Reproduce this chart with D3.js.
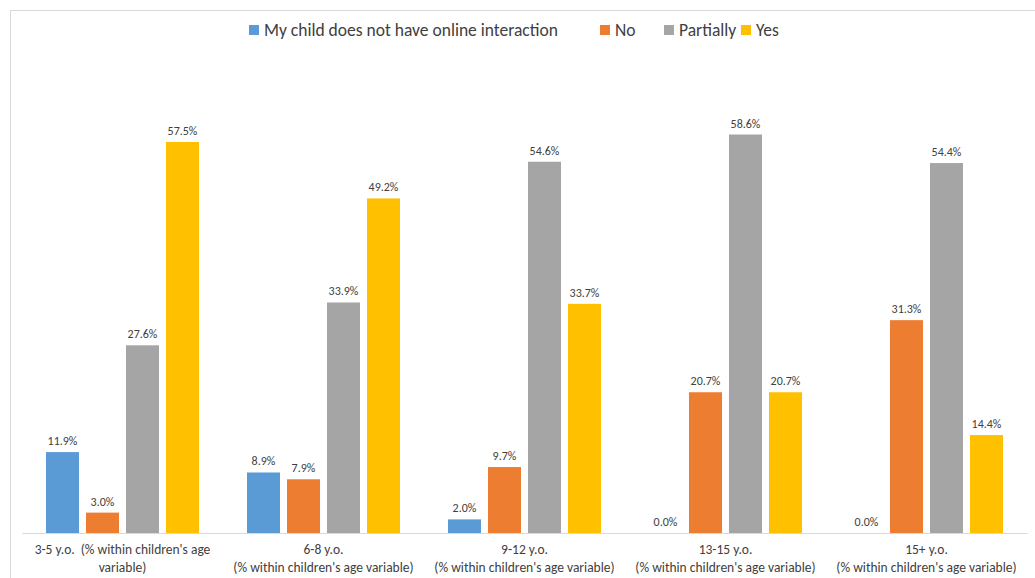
<!DOCTYPE html>
<html lang="en">
<head>
    <meta charset="UTF-8">
    <title>Online interaction by age</title>
    <script src="https://d3js.org/d3.v7.min.js"></script>
    <style>
        body { margin: 0; background: #fff; }
    </style>
</head>
<body>
    <div id="chart"></div>
    <script>
        const width = 1035;
        const height = 578;

        // data
        const ageGroups = ["3-5 y.o.", "6-8 y.o.", "9-12 y.o.", "13-15 y.o.", "15+ y.o."];
        const axisLines = [
            ["3-5 y.o.\u00a0\u00a0(% within children's age", "variable)"],
            ["6-8 y.o.", "(% within children's age variable)"],
            ["9-12 y.o.", "(% within children's age variable)"],
            ["13-15 y.o.", "(% within children's age variable)"],
            ["15+ y.o.", "(% within children's age variable)"]
        ];
        const seriesNames = ["My child does not have online interaction", "No", "Partially", "Yes"];
        const noInteraction = [11.9, 8.9, 2.0, 0.0, 0.0];
        const noValues = [3.0, 7.9, 9.7, 20.7, 31.3];
        const partiallyValues = [27.6, 33.9, 54.6, 58.6, 54.4];
        const yesValues = [57.5, 49.2, 33.7, 20.7, 14.4];
        const colors = ["#5B9BD5", "#ED7D31", "#A5A5A5", "#FFC000"];

        const seriesValues = [noInteraction, noValues, partiallyValues, yesValues];
        const rows = ageGroups.map((g, i) => ({
            group: g,
            values: seriesNames.map((s, j) => ({ series: s, value: seriesValues[j][i] }))
        }));

        const font = "Calibri, Carlito, Lato, sans-serif";

        const x0 = d3.scaleBand()
            .domain(ageGroups)
            .range([22, 1027])
            .paddingInner(0);

        const x1 = d3.scaleBand()
            .domain(seriesNames)
            .range([24, x0.bandwidth() - 24])
            .paddingInner(0.175)
            .paddingOuter(0);

        const y = d3.scaleLinear()
            .domain([0, 60])
            .range([533, 125]);

        const color = d3.scaleOrdinal().domain(seriesNames).range(colors);

        const svg = d3.select("#chart")
            .append("svg")
            .attr("width", width)
            .attr("height", height);

        // outer frame
        svg.append("rect")
            .attr("x", 10.5)
            .attr("y", 10.5)
            .attr("width", 1040)
            .attr("height", 600)
            .attr("fill", "none")
            .attr("stroke", "#d9d9d9");

        // baseline
        svg.append("g")
            .attr("transform", `translate(0,${y(0)})`)
            .call(d3.axisBottom(x0).tickSize(0).tickFormat(""))
            .call(g => g.select(".domain").attr("stroke", "#d9d9d9"));

        const groups = svg.append("g")
            .selectAll("g")
            .data(rows)
            .join("g")
            .attr("transform", d => `translate(${x0(d.group)},0)`);

        groups.selectAll("rect")
            .data(d => d.values)
            .join("rect")
            .attr("x", d => x1(d.series))
            .attr("y", d => y(d.value))
            .attr("width", x1.bandwidth())
            .attr("height", d => y(0) - y(d.value))
            .attr("fill", d => color(d.series));

        groups.selectAll("text")
            .data(d => d.values)
            .join("text")
            .attr("x", d => x1(d.series) + x1.bandwidth() / 2)
            .attr("y", d => y(d.value) - 7)
            .attr("text-anchor", "middle")
            .style("font-family", font)
            .style("font-size", "12px")
            .attr("fill", "#404040")
            .text(d => d.value.toFixed(1) + "%");

        // category labels
        const catLabels = svg.append("g")
            .selectAll("text")
            .data(ageGroups)
            .join("text")
            .attr("x", d => x0(d) + x0.bandwidth() / 2)
            .attr("y", 554)
            .attr("text-anchor", "middle")
            .style("font-family", font)
            .style("font-size", "13.5px")
            .attr("fill", "#404040");

        catLabels.selectAll("tspan")
            .data((d, i) => axisLines[i])
            .join("tspan")
            .attr("x", function () { return d3.select(this.parentNode).attr("x"); })
            .attr("dy", (d, i) => i === 0 ? 0 : 18)
            .text(d => d);

        // legend
        const legendX = [249, 600, 664, 741];
        const legend = svg.append("g")
            .selectAll("g")
            .data(seriesNames)
            .join("g")
            .attr("transform", (d, i) => `translate(${legendX[i]},25)`);

        legend.append("rect")
            .attr("width", 10)
            .attr("height", 10)
            .attr("fill", d => color(d));

        legend.append("text")
            .attr("x", 15)
            .attr("y", 11)
            .style("font-family", font)
            .style("font-size", "17.5px")
            .attr("fill", "#404040")
            .text(d => d);
    </script>
</body>
</html>
